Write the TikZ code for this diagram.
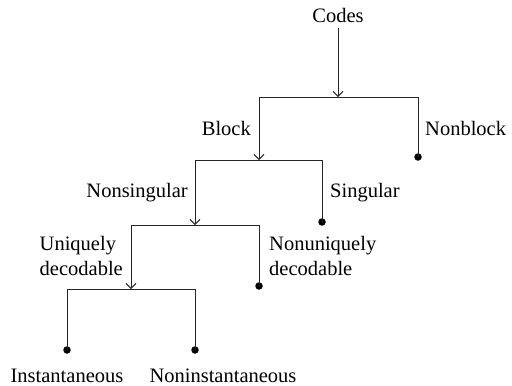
\documentclass[tikz,border=0pt]{standalone}
\usepackage{fontspec}
\setmainfont{Liberation Serif}
\usetikzlibrary{arrows.meta}
\tikzset{
  conn/.style={line width=1pt,draw=black!85},
  arr/.style={conn,-{Straight Barb[length=5pt,width=10pt,line width=0.9pt]}},
  leaf/.style={circle,fill=black,inner sep=0pt,minimum size=7.5pt},
  lbl/.style={inner sep=0pt,font=\fontsize{20.5}{25}\selectfont},
}
\begin{document}
\begin{tikzpicture}[x=1pt,y=-1pt]
\useasboundingbox (0,0) rectangle (512,386);
% top
\node[lbl] (codes) at (338,15) {Codes};
\coordinate (j1) at (338,97);
\coordinate (b1l) at (259,97);
\coordinate (b1r) at (418,97);
\draw[arr,shorten <=6pt] (codes) -- (j1);
\draw[conn] (b1l) -- (b1r);
% level 1
\coordinate (j2) at (259,160);
\node[leaf] (nonblockdot) at (418,157) {};
\node[lbl,anchor=east] (block) at (251,128) {Block};
\node[lbl,anchor=west] (nonblock) at (425,128) {Nonblock};
\draw[arr] (b1l) -- (j2);
\draw[conn] (b1r) -- (nonblockdot.center);
\coordinate (b2l) at (195,160);
\coordinate (b2r) at (322,160);
\draw[conn] (b2l) -- (b2r);
% level 2
\coordinate (j3) at (195,225);
\node[leaf] (singulardot) at (322,222) {};
\node[lbl,anchor=east] (nonsingular) at (188,193) {Nonsingular};
\node[lbl,anchor=west] (singular) at (330,193) {Singular};
\draw[arr] (b2l) -- (j3);
\draw[conn] (b2r) -- (singulardot.center);
\coordinate (b3l) at (131,225);
\coordinate (b3r) at (259,225);
\draw[conn] (b3l) -- (b3r);
% level 3
\coordinate (j4) at (131,289);
\node[leaf] (nonuniquedot) at (259,286) {};
\node[lbl,anchor=east,align=left] (unique) at (123,256) {Uniquely\\decodable};
\node[lbl,anchor=west,align=left] (nonunique) at (269,256) {Nonuniquely\\decodable};
\draw[arr] (b3l) -- (j4);
\draw[conn] (b3r) -- (nonuniquedot.center);
\coordinate (b4l) at (67,289);
\coordinate (b4r) at (195,289);
\draw[conn] (b4l) -- (b4r);
% level 4
\node[leaf] (instdot) at (67,350) {};
\node[leaf] (noninstdot) at (195,350) {};
\draw[conn] (b4l) -- (instdot.center);
\draw[conn] (b4r) -- (noninstdot.center);
\node[lbl] (inst) at (67,376) {Instantaneous};
\node[lbl] (noninst) at (223,376) {Noninstantaneous};
\end{tikzpicture}
\end{document}
